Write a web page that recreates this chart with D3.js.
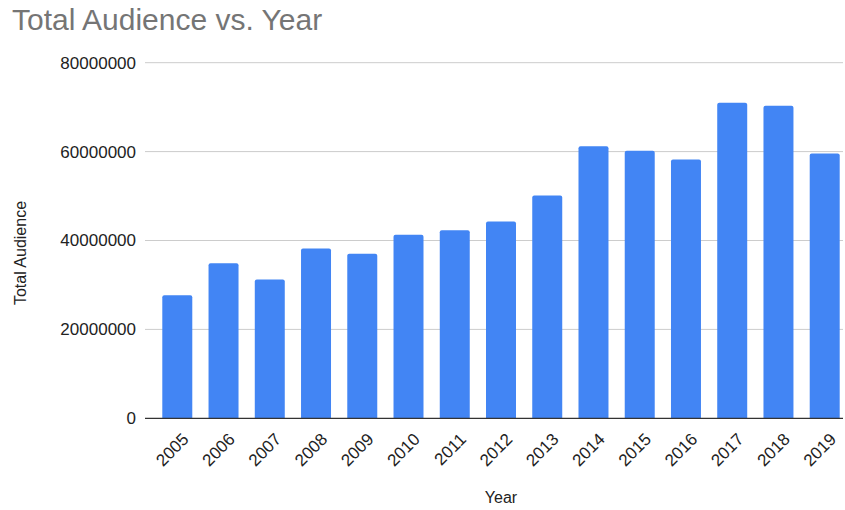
<!DOCTYPE html>
<html>
<head>
<meta charset="utf-8">
<script src="https://cdn.jsdelivr.net/npm/d3@7"></script>
<style>
  html, body { margin: 0; padding: 0; background: #fff; }
  svg { display: block; font-family: Arial, "Liberation Sans", sans-serif; }
</style>
</head>
<body>
<svg id="chart" width="845" height="510"></svg>
<script>
const years = ["2005","2006","2007","2008","2009","2010","2011","2012","2013","2014","2015","2016","2017","2018","2019"];
const audience = [27700000, 34900000, 31200000, 38200000, 37000000, 41300000, 42300000, 44300000, 50100000, 61200000, 60200000, 58200000, 71000000, 70300000, 59600000];
const yTicks = [0, 20000000, 40000000, 60000000, 80000000];

const data = years.map((y, i) => ({ year: y, value: audience[i] }));

const svg = d3.select("#chart");
const plotLeft = 145, plotRight = 843, plotTop = 62.7, plotBottom = 418.3;

const x = d3.scaleBand()
  .domain(years)
  .range([plotLeft, 857])
  .paddingInner(0.3515)
  .paddingOuter(0.374);

const y = d3.scaleLinear().domain([0, 80000000]).range([plotBottom, plotTop]);

// title
svg.append("text")
  .attr("x", 12).attr("y", 30)
  .attr("font-size", 30).attr("fill", "#757575")
  .text("Total Audience vs. Year");

// gridlines
svg.append("g").selectAll("line")
  .data(yTicks.filter(d => d > 0))
  .join("line")
  .attr("x1", plotLeft).attr("x2", plotRight)
  .attr("y1", d => y(d)).attr("y2", d => y(d))
  .attr("stroke", "#cccccc").attr("stroke-width", 1);

// y tick labels
svg.append("g").selectAll("text")
  .data(yTicks)
  .join("text")
  .attr("x", 136).attr("y", d => y(d))
  .attr("dy", "0.35em")
  .attr("text-anchor", "end")
  .attr("font-size", 17).attr("fill", "#222")
  .text(d => d3.format("d")(d));

// bars with rounded tops
const r = 2;
svg.append("g").selectAll("path")
  .data(data)
  .join("path")
  .attr("fill", "#4285f4")
  .attr("d", d => {
    const x0 = x(d.year), w = x.bandwidth(), y0 = y(d.value), yb = y(0);
    return `M${x0},${yb}V${y0 + r}Q${x0},${y0} ${x0 + r},${y0}H${x0 + w - r}Q${x0 + w},${y0} ${x0 + w},${y0 + r}V${yb}Z`;
  });

// baseline
svg.append("line")
  .attr("x1", plotLeft).attr("x2", plotRight)
  .attr("y1", plotBottom).attr("y2", plotBottom)
  .attr("stroke", "#333").attr("stroke-width", 1.2);

// x tick labels
svg.append("g").selectAll("text")
  .data(years)
  .join("text")
  .attr("transform", d => `translate(${x(d) + x.bandwidth() / 2 + 4},${432}) rotate(-45)`)
  .attr("text-anchor", "end")
  .attr("dy", "0.7em")
  .attr("font-size", 17).attr("fill", "#222")
  .text(d => d);

// axis titles
svg.append("text")
  .attr("x", 501).attr("y", 503)
  .attr("text-anchor", "middle")
  .attr("font-size", 16).attr("fill", "#222")
  .text("Year");

svg.append("text")
  .attr("transform", `translate(26,253) rotate(-90)`)
  .attr("text-anchor", "middle")
  .attr("font-size", 16).attr("fill", "#222")
  .text("Total Audience");
</script>
</body>
</html>
